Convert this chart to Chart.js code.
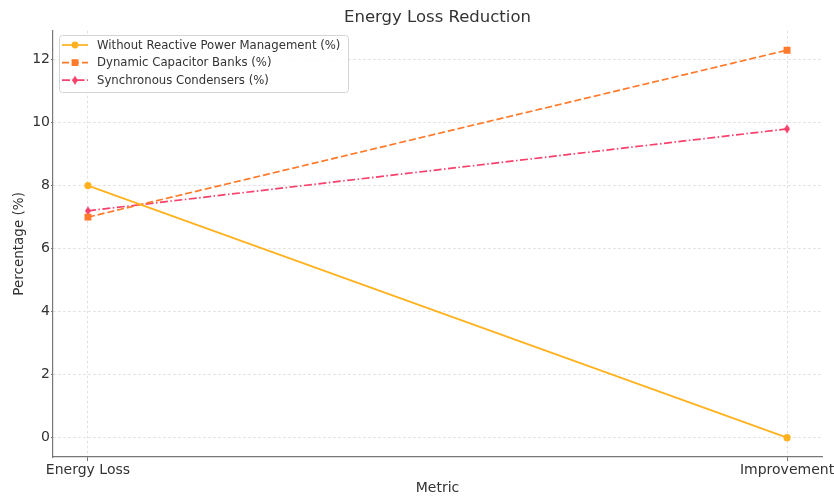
<!DOCTYPE html>
<html>
<head>
<meta charset="utf-8">
<script src="https://cdn.jsdelivr.net/npm/chart.js@4.4.1/dist/chart.umd.min.js"></script>
<style>
  html, body { margin: 0; padding: 0; background: #ffffff; }
  #wrap { width: 834px; height: 497px; }
</style>
</head>
<body>
<div id="wrap"><canvas id="c" width="834" height="497"></canvas></div>
<script>
// Metrics on the x axis and the three configurations compared
const metrics = ['Energy Loss', 'Improvement'];
const seriesNames = [
  'Without Reactive Power Management (%)',
  'Dynamic Capacitor Banks (%)',
  'Synchronous Condensers (%)'
];
const withoutRPM = [8, 0];
const capacitorBanks = [7, 12.3];
const syncCondensers = [7.2, 9.8];
const yTickValues = [0, 2, 4, 6, 8, 10, 12];

const FONT = "'DejaVu Sans', 'Liberation Sans', sans-serif";
const COLORS = ['#FFB21E', '#FF7A2B', '#F5416C'];

// Narrow diamond marker as an image point style
function thinDiamond(color, h) {
  const w = Math.round(h * 0.62);
  const c = document.createElement('canvas');
  c.width = w + 2; c.height = h + 2;
  const g = c.getContext('2d');
  g.fillStyle = color;
  g.beginPath();
  g.moveTo(c.width / 2, 1);
  g.lineTo(c.width - 1, c.height / 2);
  g.lineTo(c.width / 2, c.height - 1);
  g.lineTo(1, c.height / 2);
  g.closePath();
  g.fill();
  return c;
}
const diamondImg = thinDiamond(COLORS[2], 9);

const toPoints = vals => vals.map((v, i) => ({ x: i, y: v }));

const datasets = [
  {
    label: seriesNames[0], data: toPoints(withoutRPM),
    borderColor: COLORS[0], backgroundColor: COLORS[0],
    borderWidth: 1.7, pointStyle: 'circle', pointRadius: 3.6,
    borderDash: []
  },
  {
    label: seriesNames[1], data: toPoints(capacitorBanks),
    borderColor: COLORS[1], backgroundColor: COLORS[1],
    borderWidth: 1.7, pointStyle: 'rect', pointRadius: 4.9,
    borderDash: [7, 3]
  },
  {
    label: seriesNames[2], data: toPoints(syncCondensers),
    borderColor: COLORS[2], backgroundColor: COLORS[2],
    borderWidth: 1.7, pointStyle: diamondImg, pointRadius: 5,
    borderDash: [8, 2.5, 1.5, 2.5]
  }
];
datasets.forEach(d => { d.tension = 0; d.fill = false; d.pointBorderWidth = 0; d.pointHoverRadius = d.pointRadius; });

// Legend drawn inside the plot area, top-left, over the lines
const innerLegend = {
  id: 'innerLegend',
  afterDraw(chart) {
    const ctx = chart.ctx;
    const x0 = 59, y0 = 35, w = 289, h = 57;
    ctx.save();
    ctx.fillStyle = 'rgba(255,255,255,0.85)';
    ctx.strokeStyle = '#d4d4d4';
    ctx.lineWidth = 1;
    ctx.beginPath();
    ctx.roundRect(x0 + 0.5, y0 + 0.5, w, h, 3);
    ctx.fill();
    ctx.stroke();
    ctx.font = '11.7px ' + FONT;
    ctx.textBaseline = 'middle';
    chart.data.datasets.forEach((ds, i) => {
      const y = 45 + i * 17.6;
      ctx.strokeStyle = ds.borderColor;
      ctx.lineWidth = ds.borderWidth;
      ctx.setLineDash(ds.borderDash);
      ctx.beginPath();
      ctx.moveTo(62, y); ctx.lineTo(88, y);
      ctx.stroke();
      ctx.setLineDash([]);
      ctx.fillStyle = ds.backgroundColor;
      const mx = 75;
      if (ds.pointStyle === 'circle') {
        ctx.beginPath(); ctx.arc(mx, y, 3.4, 0, Math.PI * 2); ctx.fill();
      } else if (ds.pointStyle === 'rect') {
        ctx.fillRect(mx - 3.4, y - 3.4, 6.8, 6.8);
      } else {
        ctx.drawImage(ds.pointStyle, mx - ds.pointStyle.width / 2, y - ds.pointStyle.height / 2);
      }
      ctx.fillStyle = '#333333';
      ctx.fillText(ds.label, 97, y + 0.5);
    });
    ctx.restore();
  }
};

new Chart(document.getElementById('c'), {
  type: 'line',
  data: { datasets },
  plugins: [innerLegend],
  options: {
    responsive: false,
    animation: false,
    devicePixelRatio: 1,
    layout: { padding: { left: 0, right: 12, top: 0, bottom: 0 } },
    plugins: {
      legend: { display: false },
      tooltip: { enabled: false },
      title: {
        display: true,
        text: 'Energy Loss Reduction',
        fullSize: false,
        color: '#333333',
        font: { family: FONT, size: 16.5, weight: 'normal' },
        padding: { top: 8, bottom: 3 }
      }
    },
    scales: {
      x: {
        type: 'linear',
        min: -0.05, max: 1.05,
        afterBuildTicks(scale) { scale.ticks = metrics.map((_, i) => ({ value: i })); },
        afterFit(scale) { scale.height = 40; scale.paddingLeft = 0; scale.paddingRight = 0; },
        ticks: {
          callback: v => metrics[v],
          color: '#333333',
          font: { family: FONT, size: 14 },
          maxRotation: 0, minRotation: 0, autoSkip: false,
          padding: 1
        },
        grid: {
          color: '#dcdcdc', lineWidth: 0.9,
          tickColor: '#777777', tickLength: 4, tickWidth: 1, tickBorderDash: []
        },
        border: { display: true, color: '#777777', width: 1.2, dash: [2.5, 2.5] },
        title: {
          display: true, text: 'Metric', color: '#333333',
          font: { family: FONT, size: 14 },
          padding: { top: 0, bottom: 0 }
        }
      },
      y: {
        type: 'linear',
        min: -0.615, max: 12.915,
        afterBuildTicks(scale) { scale.ticks = yTickValues.map(v => ({ value: v })); },
        afterFit(scale) { scale.width = 53; scale.paddingTop = 0; scale.paddingBottom = 0; },
        ticks: {
          callback: v => String(v),
          color: '#333333',
          font: { family: FONT, size: 14 },
          padding: 1
        },
        grid: {
          color: '#dcdcdc', lineWidth: 0.9,
          tickColor: '#777777', tickLength: 2, tickWidth: 1, tickBorderDash: []
        },
        border: { display: true, color: '#777777', width: 1.2, dash: [2.5, 2.5] },
        title: {
          display: true, text: 'Percentage (%)', color: '#333333',
          font: { family: FONT, size: 13.5 },
          padding: { top: 11, bottom: 0 }
        }
      }
    }
  }
});
</script>
</body>
</html>
